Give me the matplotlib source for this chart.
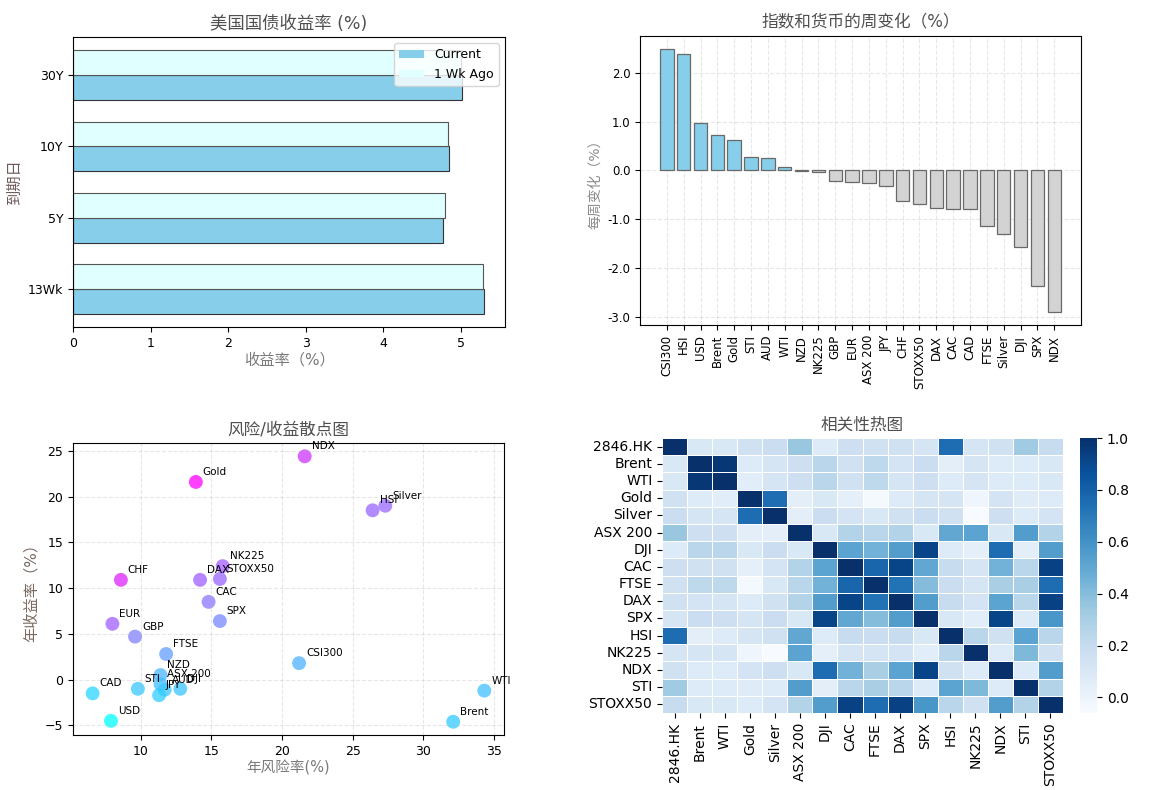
import numpy as np
import matplotlib
matplotlib.use("Agg")
import matplotlib.pyplot as plt
from matplotlib.ticker import FormatStrFormatter
from matplotlib.patches import Patch
import seaborn as sns

plt.rcParams['font.family'] = ['DejaVu Sans', 'Noto Sans CJK SC']
plt.rcParams['axes.unicode_minus'] = True

# --- treasury yields ---
maturities = ["13Wk", "5Y", "10Y", "30Y"]
yield_current = [5.305, 4.77, 4.845, 5.02]
yield_week_ago = [5.29, 4.79, 4.84, 5.00]

# --- weekly change ---
change_names = ["CSI300", "HSI", "USD", "Brent", "Gold", "STI", "AUD", "WTI", "NZD",
                "NK225", "GBP", "EUR", "ASX 200", "JPY", "CHF", "STOXX50", "DAX",
                "CAC", "CAD", "FTSE", "Silver", "DJI", "SPX", "NDX"]
change_values = [2.49, 2.39, 0.97, 0.72, 0.62, 0.28, 0.25, 0.07, -0.01,
                 -0.03, -0.22, -0.24, -0.25, -0.32, -0.63, -0.68, -0.77,
                 -0.80, -0.80, -1.13, -1.31, -1.58, -2.36, -2.90]

# --- risk / return ---
rr_names = ["NDX", "Gold", "HSI", "Silver", "NK225", "DAX", "STOXX50", "CHF",
            "CAC", "SPX", "EUR", "GBP", "FTSE", "CSI300", "NZD", "ASX 200",
            "AUD", "DJI", "JPY", "STI", "CAD", "USD", "WTI", "Brent"]
rr_risk = [21.6, 13.9, 26.4, 27.3, 15.8, 14.2, 15.6, 8.6,
           14.8, 15.6, 8.0, 9.6, 11.8, 21.2, 11.4, 11.4,
           11.7, 12.8, 11.3, 9.8, 6.6, 7.9, 34.3, 32.1]
rr_return = [24.4, 21.6, 18.5, 19.0, 12.4, 10.9, 11.0, 10.9,
             8.5, 6.4, 6.1, 4.7, 2.8, 1.8, 0.5, -0.5,
             -1.1, -1.0, -1.7, -1.0, -1.5, -4.5, -1.2, -4.6]

# --- correlations ---
corr_names = ["2846.HK", "Brent", "WTI", "Gold", "Silver", "ASX 200", "DJI", "CAC",
              "FTSE", "DAX", "SPX", "HSI", "NK225", "NDX", "STI", "STOXX50"]
corr_matrix = [
    [1.00, 0.10, 0.10, 0.15, 0.18, 0.35, 0.08, 0.17, 0.15, 0.15, 0.12, 0.75, 0.12, 0.15, 0.33, 0.20],
    [0.10, 1.00, 0.97, 0.08, 0.12, 0.17, 0.25, 0.15, 0.23, 0.13, 0.18, 0.05, 0.12, 0.08, 0.08, 0.10],
    [0.10, 0.97, 1.00, 0.06, 0.12, 0.17, 0.25, 0.15, 0.23, 0.12, 0.17, 0.08, 0.12, 0.08, 0.08, 0.10],
    [0.15, 0.08, 0.06, 1.00, 0.75, 0.05, 0.10, 0.04, -0.04, 0.08, 0.12, 0.12, -0.01, 0.13, 0.07, 0.08],
    [0.18, 0.12, 0.12, 0.75, 1.00, 0.05, 0.18, 0.13, 0.10, 0.15, 0.18, 0.15, -0.06, 0.17, 0.08, 0.13],
    [0.35, 0.17, 0.17, 0.05, 0.05, 1.00, 0.10, 0.27, 0.25, 0.27, 0.10, 0.50, 0.52, 0.10, 0.55, 0.27],
    [0.08, 0.25, 0.25, 0.10, 0.18, 0.10, 1.00, 0.52, 0.45, 0.55, 0.92, 0.08, 0.04, 0.75, 0.05, 0.55],
    [0.17, 0.15, 0.15, 0.04, 0.13, 0.27, 0.52, 1.00, 0.78, 0.92, 0.50, 0.20, 0.12, 0.45, 0.25, 0.93],
    [0.15, 0.23, 0.23, -0.04, 0.10, 0.25, 0.45, 0.78, 1.00, 0.73, 0.40, 0.18, 0.12, 0.30, 0.30, 0.75],
    [0.15, 0.13, 0.12, 0.08, 0.15, 0.27, 0.55, 0.92, 0.73, 1.00, 0.55, 0.20, 0.13, 0.52, 0.25, 0.93],
    [0.12, 0.18, 0.17, 0.12, 0.18, 0.10, 0.92, 0.50, 0.40, 0.55, 1.00, 0.10, 0.06, 0.92, 0.08, 0.58],
    [0.75, 0.05, 0.08, 0.12, 0.15, 0.50, 0.08, 0.20, 0.18, 0.20, 0.10, 1.00, 0.25, 0.15, 0.52, 0.25],
    [0.12, 0.12, 0.12, -0.01, -0.06, 0.52, 0.04, 0.12, 0.12, 0.13, 0.06, 0.25, 1.00, 0.08, 0.42, 0.15],
    [0.15, 0.08, 0.08, 0.13, 0.17, 0.10, 0.75, 0.45, 0.30, 0.52, 0.92, 0.15, 0.08, 1.00, 0.08, 0.55],
    [0.33, 0.08, 0.08, 0.07, 0.08, 0.55, 0.05, 0.25, 0.30, 0.25, 0.08, 0.52, 0.42, 0.08, 1.00, 0.27],
    [0.20, 0.10, 0.10, 0.08, 0.13, 0.27, 0.55, 0.93, 0.75, 0.93, 0.58, 0.25, 0.15, 0.55, 0.27, 1.00],
]

title_color = "#505050"
label_color = "#7a7a7a"

fig = plt.figure(figsize=(11.52, 7.9), dpi=100)

# treasury yields
ax1 = fig.add_axes([0.0634, 0.586, 0.375, 0.367])
pos = np.arange(len(maturities))
h = 0.35
ax1.barh(pos - h / 2, yield_current, height=h, color="skyblue",
         edgecolor="#333333", linewidth=0.8)
ax1.barh(pos + h / 2, yield_week_ago, height=h, color="lightcyan",
         edgecolor="#555555", linewidth=0.8)
ax1.set_yticks(pos)
ax1.set_yticklabels(maturities)
ax1.tick_params(labelsize=9)
ax1.set_title("美国国债收益率 (%)", fontsize=12.5, color=title_color)
ax1.set_xlabel("收益率（%）", fontsize=11, color=label_color, labelpad=2)
ax1.set_ylabel("到期日", fontsize=11, color="#6e5a5a")
handles = [Patch(facecolor="skyblue", edgecolor="none", label="Current"),
           Patch(facecolor="lightcyan", edgecolor="none", label="1 Wk Ago")]
ax1.legend(handles=handles, loc="upper right", fontsize=9, handleheight=0.5)

# weekly change
ax2 = fig.add_axes([0.5556, 0.5886, 0.3828, 0.366])
bar_colors = ["skyblue" if v > 0 else "lightgray" for v in change_values]
ax2.bar(np.arange(len(change_names)), change_values, color=bar_colors,
        edgecolor="dimgray", linewidth=0.9)
ax2.set_xticks(np.arange(len(change_names)))
ax2.set_xticklabels(change_names, rotation=90)
ax2.yaxis.set_major_formatter(FormatStrFormatter("%.1f"))
ax2.tick_params(labelsize=8.5)
ax2.grid(True, linestyle="--", alpha=0.3)
ax2.set_axisbelow(True)
ax2.set_title("指数和货币的周变化（%）", fontsize=12, color=title_color)
ax2.set_ylabel("每周变化（%）", fontsize=10, color="#8a8a8a")

# risk / return scatter
ax3 = fig.add_axes([0.0634, 0.0696, 0.374, 0.3696])
sharpe = np.array(rr_return) / np.array(rr_risk)
ax3.scatter(rr_risk, rr_return, c=sharpe, cmap="cool", s=100, alpha=0.75,
            edgecolors="none")
for name, x, y in zip(rr_names, rr_risk, rr_return):
    ax3.annotate(name, (x, y), xytext=(5, 5), textcoords="offset points",
                 fontsize=7.5)
ax3.grid(True, linestyle="--", alpha=0.3)
ax3.tick_params(labelsize=9)
ax3.set_title("风险/收益散点图", fontsize=12, color=title_color)
ax3.set_xlabel("年风险率(%)", fontsize=10.5, color=label_color, labelpad=2)
ax3.set_ylabel("年收益率（%）", fontsize=11, color="#7a6a60")

# correlation heatmap
ax4 = fig.add_axes([0.5747, 0.0975, 0.348, 0.348])
cax = fig.add_axes([0.9375, 0.0975, 0.0148, 0.348])
sns.heatmap(np.array(corr_matrix), ax=ax4, cbar_ax=cax, cmap="Blues",
            linewidths=0.5, linecolor="white",
            xticklabels=corr_names, yticklabels=corr_names)
ax4.tick_params(labelsize=10)
ax4.set_xticklabels(corr_names, rotation=90)
ax4.set_yticklabels(corr_names, rotation=0)
cax.tick_params(labelsize=10)
cax.set_yticks([0.0, 0.2, 0.4, 0.6, 0.8, 1.0])
ax4.set_title("相关性热图", fontsize=12, color=title_color)

fig.savefig("out.png", dpi=100)
